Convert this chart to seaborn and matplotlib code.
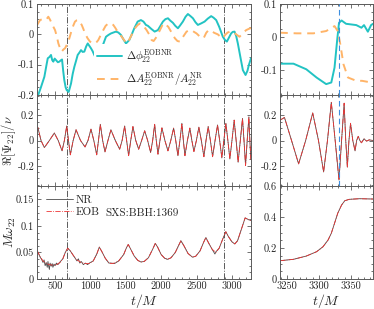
import matplotlib
matplotlib.use("Agg")
import matplotlib.pyplot as plt
import seaborn as sns
from matplotlib.ticker import AutoMinorLocator, FuncFormatter, MultipleLocator

# ---------------- data ----------------
# top-left: phase difference (t, value)
dphi_left = [(262,-0.2),(300,-0.175),(349,-0.14),(380,-0.1),(397,-0.079),(420,-0.075),(443,-0.068),
             (460,-0.085),(476,-0.09),(495,-0.08),(514,-0.085),(540,-0.092),(561,-0.09),(580,-0.086),
             (599,-0.083),(615,-0.12),(631,-0.151),(650,-0.175),(665,-0.184),(693,-0.19),(726,-0.162),
             (750,-0.13),(773,-0.107),(800,-0.085),(820,-0.068),(845,-0.06),(867,-0.052),(890,-0.058),
             (914,-0.057),(940,-0.04),(962,-0.03),(985,-0.038),(1008,-0.046),(1030,-0.055),(1055,-0.068),
             (1079,-0.079),(1110,-0.07),(1150,-0.052),(1185,-0.03),(1220,-0.008),(1255,-0.002),(1291,0.003),
             (1325,0.006),(1361,0.009),(1395,0.006),(1432,-0.002),(1470,-0.018),(1503,-0.03),(1549,-0.019),
             (1585,0.0),(1620,0.02),(1668,0.042),(1714,0.047),(1750,0.042),(1785,0.031),(1813,0.028),
             (1860,0.018),(1908,0.009),(1954,0.014),(1990,0.028),(2025,0.042),(2060,0.05),(2096,0.053),
             (2130,0.045),(2166,0.038),(2200,0.028),(2237,0.02),(2270,0.03),(2307,0.042),(2345,0.058),
             (2378,0.067),(2415,0.06),(2449,0.053),(2485,0.04),(2519,0.031),(2565,0.036),(2614,0.042),
             (2660,0.052),(2707,0.06),(2740,0.055),(2778,0.047),(2820,0.025),(2872,-0.008),(2900,-0.018),
             (2929,-0.024),(2960,-0.01),(2989,0.003),(3012,0.008),(3037,0.009),(3060,-0.005),(3084,-0.03),
             (3120,-0.075),(3155,-0.118),(3193,-0.134),(3220,-0.12),(3240,-0.101),(3270,-0.079)]
# top-left: relative amplitude difference (t, value)
damp_left = [(245,0.03),(270,0.04),(288,0.047),(320,0.05),(359,0.053),(380,0.05),(405,0.058),(430,0.048),
             (453,0.036),(476,0.025),(500,0.014),(523,-0.005),(547,-0.03),(570,-0.045),(594,-0.057),
             (618,-0.05),(641,-0.046),(665,-0.035),(688,-0.024),(712,-0.005),(736,0.014),(760,0.03),
             (782,0.042),(805,0.046),(829,0.047),(853,0.04),(877,0.031),(900,0.018),(924,0.003),(960,-0.013),
             (994,-0.024),(1030,-0.029),(1065,-0.03),(1090,-0.025),(1111,-0.019),(1145,-0.003),(1182,0.014),
             (1215,0.028),(1253,0.036),(1290,0.036),(1323,0.031),(1350,0.022),(1371,0.014),(1405,0.003),
             (1442,-0.008),(1480,-0.02),(1512,-0.03),(1535,-0.024),(1559,-0.013),(1595,0.004),(1630,0.02),
             (1665,0.03),(1700,0.036),(1750,0.028),(1794,0.014),(1830,0.0),(1865,-0.019),(1894,-0.022),
             (1936,-0.008),(1985,0.015),(2029,0.036),(2065,0.032),(2100,0.025),(2150,0.005),(2194,-0.013),
             (2230,-0.022),(2265,-0.024),(2310,-0.008),(2359,0.009),(2395,0.013),(2430,0.014),(2465,0.008),
             (2500,0.003),(2550,-0.008),(2600,-0.013),(2637,0.005),(2670,0.014),(2707,0.012),(2750,0.005),
             (2800,0.0),(2840,-0.008),(2872,-0.013),(2900,-0.003),(2940,0.006),(2975,0.009),(3013,0.009),
             (3060,0.0),(3108,-0.008),(3150,0.003),(3202,0.014),(3258,0.02),(3270,0.02)]
# top-right
dphi_right = [(3239,-0.081),(3260,-0.081),(3280,-0.098),(3296,-0.123),(3311,-0.143),(3319,-0.138),
              (3324,-0.093),(3328,-0.012),(3331,0.043),(3335,0.05),(3342,0.04),(3358,0.036),(3366,0.028),
              (3370,0.036),(3376,0.016),(3381,0.036),(3384,0.04)]
damp_right = [(3239,0.013),(3265,0.011),(3291,0.011),(3311,0.018),(3324,0.033),(3329,0.018),(3333,-0.022),
              (3338,-0.083),(3345,-0.123),(3358,-0.133),(3367,-0.133),(3381,-0.138),(3384,-0.14)]
# middle-left: Re[Psi22]/nu (t, value)
re_left = [(245,0.08),(256,0.105),(302,0),(349,-0.056),(420,0),(490,0.059),(545,0),(599,-0.082),(632,0),
           (665,0.115),(690,0),(716,-0.113),(756,0),(797,0.085),(860,0),(924,-0.051),(966,0),(1008,0.09),
           (1048,0),(1089,-0.113),(1114,0),(1140,0.128),(1173,0),(1206,-0.09),(1248,0),(1290,0.085),
           (1352,0),(1413,-0.069),(1448,0),(1484,0.115),(1512,0),(1540,-0.12),(1570,0),(1601,0.11),
           (1641,0),(1682,-0.069),(1724,0),(1767,0.077),(1809,0),(1851,-0.095),(1880,0),(1908,0.128),
           (1931,0),(1955,-0.108),(1983,0),(2011,0.1),(2053,0),(2096,-0.082),(2136,0),(2176,0.098),
           (2206,0),(2237,-0.12),(2265,0),(2293,0.136),(2314,0),(2336,-0.12),(2371,0),(2406,0.098),
           (2434,0),(2463,-0.087),(2498,0),(2533,0.105),(2568,0),(2604,-0.128),(2634,0),(2665,0.11),
           (2696,0),(2727,-0.128),(2762,0),(2797,0.123),(2827,0),(2858,-0.138),(2886,0),(2915,0.136),
           (2943,0),(2971,-0.146),(3001,0),(3032,0.161),(3060,0),(3088,-0.172),(3119,0),(3150,0.175),
           (3171,0),(3193,-0.198),(3216,0),(3240,0.187),(3254,0),(3268,-0.15)]
# middle-right
re_right = [(3239,0.161),(3246,0.182),(3257,0),(3268,-0.185),(3279,0),(3290,0.218),(3299,0),(3307,-0.249),
            (3313,0),(3319,0.302),(3325,0),(3331,-0.313),(3335,0),(3339,0.295),(3341.5,0),(3344,-0.21),
            (3346.5,0),(3349,0.136),(3352.5,0),(3356,-0.082),(3358.5,0),(3361,0.033),(3363.5,0),
            (3366,-0.018),(3370,0.013),(3374,-0.005),(3378,0.005),(3384,0.0)]
# bottom-left: frequency (t, value)  EOB and NR (NR noisier at early times)
om_eob = [(245,0.054),(290,0.042),(330,0.034),(380,0.029),(420,0.027),(470,0.026),(520,0.027),(570,0.031),
          (610,0.038),(645,0.05),(679,0.058),(715,0.053),(760,0.044),(810,0.036),(870,0.031),(930,0.029),
          (985,0.029),(1040,0.034),(1090,0.047),(1126,0.06),(1160,0.052),(1210,0.039),(1260,0.031),
          (1291,0.029),(1340,0.03),(1400,0.034),(1470,0.046),(1510,0.059),(1535,0.065),(1570,0.056),
          (1620,0.043),(1670,0.035),(1714,0.032),(1760,0.033),(1820,0.04),(1880,0.056),(1917,0.067),
          (1950,0.06),(2000,0.046),(2050,0.039),(2091,0.037),(2140,0.04),(2200,0.05),(2250,0.064),
          (2279,0.072),(2320,0.063),(2380,0.048),(2444,0.041),(2490,0.043),(2550,0.053),(2600,0.069),
          (2632,0.078),(2670,0.068),(2720,0.056),(2773,0.05),(2820,0.058),(2870,0.075),(2914,0.089),
          (2950,0.08),(3000,0.07),(3041,0.066),(3080,0.072),(3130,0.092),(3187,0.115),(3230,0.112),
          (3268,0.11)]
om_nr = [(245,0.054),(290,0.041),(310,0.037),(330,0.031),(345,0.036),(360,0.025),(375,0.031),(390,0.022),
         (400,0.033),(410,0.024),(420,0.018),(430,0.03),(445,0.024),(460,0.029),(470,0.022),(485,0.028),
         (500,0.025),(520,0.03),(540,0.027),(570,0.032),(610,0.038),(645,0.05),(679,0.058),(715,0.053),
         (760,0.044),(810,0.034),(830,0.038),(850,0.03),(870,0.033),(900,0.027),(930,0.03),(960,0.027),
         (985,0.03),(1040,0.034),(1090,0.047),(1126,0.06),(1160,0.052),(1210,0.039),(1260,0.03),
         (1291,0.03),(1340,0.029),(1400,0.034),(1470,0.046),(1510,0.059),(1535,0.065),(1570,0.056),
         (1620,0.043),(1670,0.035),(1714,0.032),(1760,0.033),(1820,0.04),(1880,0.056),(1917,0.067),
         (1950,0.06),(2000,0.046),(2050,0.039),(2091,0.037),(2140,0.04),(2200,0.05),(2250,0.064),
         (2279,0.072),(2320,0.063),(2380,0.048),(2444,0.041),(2490,0.043),(2550,0.053),(2600,0.069),
         (2632,0.078),(2670,0.068),(2720,0.056),(2760,0.047),(2773,0.051),(2820,0.058),(2870,0.075),
         (2914,0.089),(2950,0.08),(3000,0.07),(3041,0.066),(3080,0.072),(3130,0.092),(3187,0.115),
         (3230,0.112),(3268,0.11)]
# bottom-right
om_right = [(3239,0.118),(3260,0.127),(3280,0.148),(3296,0.176),(3306,0.208),(3314,0.252),(3319,0.295),
            (3324,0.359),(3329,0.424),(3335,0.477),(3340,0.505),(3347,0.514),(3363,0.518),(3384,0.516)]

t_marks_left = [665, 2890]     # dash-dot vertical lines
t_peak_right = 3331            # blue dashed vertical line
legend_top = [r"$\Delta\phi_{22}^{\rm EOBNR}$", r"$\Delta A_{22}^{\rm EOBNR}/A_{22}^{\rm NR}$"]
legend_bottom = ["NR", "EOB"]
sim_label = "SXS:BBH:1369"

# ---------------- style ----------------
sns.set_theme(style="ticks")
plt.rcParams.update({
    "font.family": ["cmr10", "DejaVu Serif"],
    "mathtext.fontset": "cm",
    "axes.unicode_minus": False,
    "axes.formatter.use_mathtext": True,
    "font.size": 7.5,
})

CYAN = "#22c3c3"
ORANGE = "#ffb468"
NRC = "#4a4a4a"
EOBC = "#ee3535"
GRID = "#5a5a5a"

W, H = 374, 309
fig = plt.figure(figsize=(W / 100, H / 100), dpi=100)


def box(x0, y0, x1, y1):
    return [x0 / W, 1 - y1 / H, (x1 - x0) / W, (y1 - y0) / H]


rows = [(4, 95), (95, 186), (186, 279)]
axL = [fig.add_axes(box(37, a, 251, b)) for a, b in rows]
axR = [fig.add_axes(box(280, a, 373, b)) for a, b in rows]

fmt = FuncFormatter(lambda v, p: "0" if abs(v) < 1e-9 else f"{v:g}")


def line(ax, data, **kw):
    t = [p[0] for p in data]
    v = [p[1] for p in data]
    sns.lineplot(x=t, y=v, ax=ax, sort=False, estimator=None, errorbar=None, **kw)


# top row
line(axL[0], dphi_left, color=CYAN, linewidth=1.4, label=legend_top[0])
line(axL[0], damp_left, color=ORANGE, linewidth=1.4, linestyle=(0, (4, 3)), label=legend_top[1])
line(axR[0], dphi_right, color=CYAN, linewidth=1.4)
line(axR[0], damp_right, color=ORANGE, linewidth=1.4, linestyle=(0, (4, 3)))

# middle row
line(axL[1], re_left, color=NRC, linewidth=0.6)
line(axL[1], re_left, color=EOBC, linewidth=0.6, linestyle="-.")
line(axR[1], re_right, color=NRC, linewidth=0.6)
line(axR[1], re_right, color=EOBC, linewidth=0.6, linestyle="-.")

# bottom row
line(axL[2], om_nr, color=NRC, linewidth=0.6, label=legend_bottom[0])
line(axL[2], om_eob, color=EOBC, linewidth=0.6, linestyle="-.", label=legend_bottom[1])
line(axR[2], om_right, color=NRC, linewidth=0.6)
line(axR[2], om_right, color=EOBC, linewidth=0.6, linestyle="-.")

for ax in axL:
    for tm in t_marks_left:
        ax.axvline(tm, color=GRID, linewidth=0.7, linestyle="-.", zorder=1)
for ax in axR[:2]:
    ax.axvline(t_peak_right, color="#3d8fe0", linewidth=0.8, linestyle=(0, (5, 3)), zorder=3)

# limits & ticks
for ax in axL:
    ax.set_xlim(245, 3270)
    ax.xaxis.set_major_locator(MultipleLocator(500))
    ax.xaxis.set_minor_locator(MultipleLocator(100))
for ax in axR:
    ax.set_xlim(3239, 3384)
    ax.xaxis.set_major_locator(MultipleLocator(50))
    ax.xaxis.set_minor_locator(MultipleLocator(10))

axL[0].set_ylim(-0.2, 0.1)
axL[0].yaxis.set_major_locator(MultipleLocator(0.1))
axR[0].set_ylim(-0.176, 0.1)
axR[0].yaxis.set_major_locator(MultipleLocator(0.1))
axL[1].set_ylim(-0.36, 0.36)
axR[1].set_ylim(-0.36, 0.36)
for ax in (axL[1], axR[1]):
    ax.yaxis.set_major_locator(MultipleLocator(0.2))
axL[2].set_ylim(0, 0.175)
axL[2].yaxis.set_major_locator(MultipleLocator(0.05))
axR[2].set_ylim(0, 0.6)
axR[2].yaxis.set_major_locator(MultipleLocator(0.2))

for ax in axL + axR:
    ax.yaxis.set_minor_locator(AutoMinorLocator(4))
    ax.yaxis.set_major_formatter(fmt)
    ax.xaxis.set_major_formatter(fmt)
    for s in ax.spines.values():
        s.set_color(GRID)
        s.set_linewidth(0.7)
    ax.tick_params(which="both", direction="in", top=True, right=True, color=GRID,
                   labelsize=7.5, pad=2, width=0.6)
    ax.tick_params(which="major", length=3)
    ax.tick_params(which="minor", length=1.6)
    ax.set_xlabel("")
    ax.set_ylabel("")

for ax in axL[:2] + axR[:2]:
    ax.tick_params(labelbottom=False)

axL[1].set_ylabel(r"$\Re[\Psi_{22}]/\nu$", fontsize=9)
axL[2].set_ylabel(r"$M\omega_{22}$", fontsize=9.5)
axL[1].yaxis.set_label_coords(-0.09, 0.5)
axL[2].yaxis.set_label_coords(-0.09, 0.5)
axL[2].set_xlabel(r"$t/M$", fontsize=10)
axR[2].set_xlabel(r"$t/M$", fontsize=10)
axL[2].xaxis.set_label_coords(0.5, -0.135)
axR[2].xaxis.set_label_coords(0.5, -0.135)

leg = axL[0].legend(loc="lower left", bbox_to_anchor=(0.24, -0.02), frameon=True, facecolor="white",
                    edgecolor="none", framealpha=1, fontsize=8, handlelength=2.2, borderpad=0.3,
                    labelspacing=0.45, handletextpad=0.4)
axL[2].legend(loc="upper left", bbox_to_anchor=(0.0, 1.0), frameon=False, fontsize=8,
              handlelength=2.4, labelspacing=0.2, handletextpad=0.3, borderaxespad=0.4)
axL[2].text(0.318, 0.71, sim_label, transform=axL[2].transAxes, fontsize=8, va="center", ha="left")

fig.savefig("out.png", dpi=100)
